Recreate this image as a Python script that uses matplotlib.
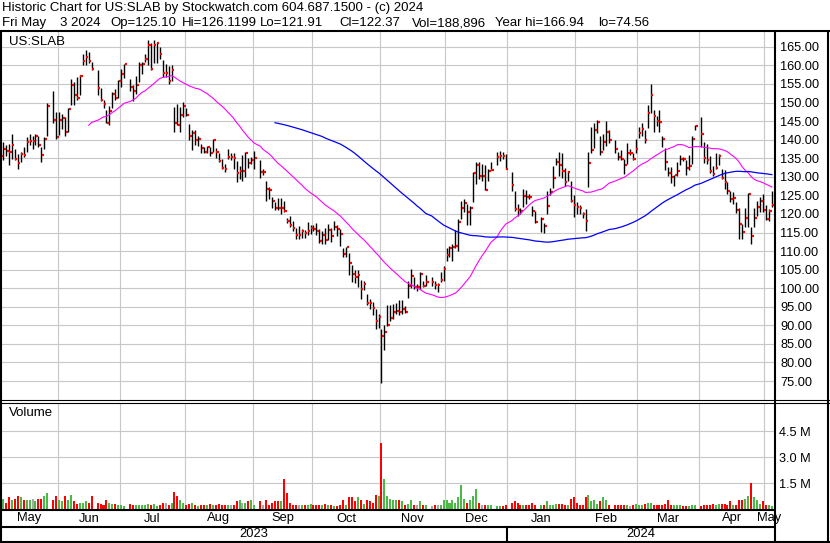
import numpy as np
import pandas as pd
import matplotlib
matplotlib.use("Agg")
import matplotlib.pyplot as plt
from matplotlib.transforms import blended_transform_factory

plt.rcParams['font.family'] = ['Liberation Sans', 'DejaVu Sans']

# Trading calendar: one slot per weekday, market holidays stay empty
first_day = '2023-05-04'
last_day = '2024-05-03'
holidays = ['2023-05-29', '2023-06-19', '2023-07-04', '2023-09-04', '2023-11-23',
            '2023-12-25', '2024-01-01', '2024-01-15', '2024-02-19', '2024-03-29']

# Daily closes (US:SLAB), month by month
closes = [
    135.5, 137.4, 136.9, 136.6, 138.7, 134.9, 133.8, 136.2, 135.8, 139.3, 139.7, 139.7, 141.1, 138.5, 135.8, 140.2, 149.2, 145.2, 140.6,
    145.2, 145.8, 142.2, 148.2, 154.8, 152.0, 151.1, 157.1, 161.3, 162.4, 161.3, 159.0, 153.8, 150.8, 149.7, 144.6, 147.6, 152.4, 151.3, 155.7, 157.6,
    160.3, 154.1, 153.0, 154.7, 160.2, 160.5, 161.6, 165.4, 159.0, 165.4, 166.0, 163.0, 157.9, 157.9, 155.7, 158.7, 144.4, 144.0, 146.6, 149.0,
    146.7, 140.9, 141.8, 140.0, 140.2, 137.7, 136.8, 138.0, 136.4, 140.0, 136.6, 134.3, 132.4, 132.1, 135.4, 135.4, 135.0, 130.9, 131.5, 131.5, 136.5, 133.8, 134.6,
    135.2, 131.4, 131.4, 126.7, 126.4, 123.4, 121.6, 121.5, 121.6, 120.9, 118.1, 117.1, 116.1, 114.3, 114.3, 115.4, 114.8, 115.3, 116.3, 115.9,
    115.5, 112.8, 114.3, 113.0, 115.7, 114.1, 116.6, 116.0, 114.6, 109.2, 111.0, 106.7, 103.8, 103.1, 103.5, 99.9, 101.2, 96.0, 95.9, 94.8, 91.2, 92.3,
    87.2, 88.2, 90.1, 92.1, 93.7, 94.0, 93.5, 94.5, 93.6, 100.5, 103.2, 100.3, 100.3, 103.8, 100.6, 101.7, 101.7, 100.9, 100.9, 102.3, 105.3,
    108.9, 110.7, 111.0, 111.3, 117.7, 121.6, 122.9, 120.4, 121.7, 131.0, 133.3, 130.3, 130.3, 126.5, 131.7, 131.9, 135.3, 135.7, 135.5, 132.1,
    127.9, 121.3, 121.0, 120.7, 124.9, 124.7, 124.5, 120.9, 117.9, 118.6, 116.8, 122.2, 126.0, 129.6, 134.1, 133.1, 131.6, 128.5, 131.3, 123.5, 122.4,
    122.0, 121.5, 119.9, 118.2, 133.6, 137.2, 142.5, 144.8, 136.6, 139.3, 142.1, 139.9, 137.6, 135.4, 134.9, 133.1, 136.3, 136.3, 134.9, 137.5,
    141.9, 142.9, 139.9, 147.3, 152.0, 146.4, 145.1, 144.8, 140.2, 133.9, 130.9, 130.0, 130.4, 131.5, 134.9, 134.8, 132.5, 132.9, 140.2, 143.7,
    141.6, 135.0, 134.6, 131.5, 130.8, 132.3, 135.5, 129.7, 128.5, 126.1, 123.9, 124.4, 121.2, 117.4, 115.2, 118.9, 125.5, 114.0, 118.9, 121.9, 123.5, 121.2,
    118.7, 120.8, 122.37,
]

highs = [
    138.0, 139.4, 138.5, 138.9, 141.6, 137.6, 136.2, 136.7, 138.0, 140.6, 141.6, 141.1, 141.4, 141.1, 138.1, 140.6, 150.0, 153.2, 147.4,
    147.4, 147.0, 146.0, 148.4, 156.4, 155.5, 156.8, 157.4, 163.2, 164.1, 163.7, 161.0, 158.7, 153.8, 150.8, 148.0, 149.2, 152.8, 153.7, 156.0, 159.1,
    160.5, 156.4, 154.7, 157.1, 160.9, 161.0, 163.0, 166.9, 166.0, 166.8, 166.4, 164.9, 161.4, 160.5, 159.8, 160.1, 148.8, 149.6, 148.8, 150.2,
    148.4, 144.3, 142.5, 142.6, 141.1, 138.9, 138.0, 138.4, 138.0, 140.2, 137.8, 136.4, 134.7, 133.5, 137.5, 136.4, 136.4, 134.3, 133.0, 135.8, 136.8, 135.0, 135.4,
    137.0, 134.6, 132.0, 128.9, 127.2, 124.5, 123.3, 124.4, 124.4, 123.4, 118.9, 119.5, 118.0, 116.1, 116.8, 116.0, 115.8, 117.7, 117.0, 117.1,
    117.6, 115.9, 115.3, 116.3, 117.4, 116.1, 118.2, 117.0, 116.0, 110.8, 111.2, 109.4, 106.3, 105.0, 104.9, 102.1, 102.0, 98.4, 97.0, 96.2, 94.4, 93.0,
    89.0, 90.0, 95.5, 95.5, 95.8, 96.0, 96.7, 96.7, 95.2, 102.0, 105.2, 103.1, 101.1, 104.3, 101.9, 103.6, 102.9, 101.9, 101.4, 104.5, 105.9,
    110.9, 111.4, 111.9, 115.6, 118.6, 123.6, 124.1, 122.6, 122.2, 131.2, 133.9, 133.9, 133.4, 133.1, 132.1, 134.1, 136.6, 137.0, 136.6, 136.1,
    131.3, 126.3, 122.6, 121.7, 126.7, 126.5, 125.4, 122.2, 120.9, 119.1, 117.5, 126.1, 127.1, 132.9, 135.2, 136.6, 136.3, 132.5, 131.7, 128.9, 125.2,
    123.3, 122.4, 120.6, 121.4, 136.8, 143.5, 144.5, 145.3, 141.0, 141.5, 145.0, 142.6, 139.8, 136.7, 137.1, 134.9, 139.0, 137.6, 136.3, 140.3,
    143.5, 144.4, 142.6, 149.4, 155.1, 148.0, 146.4, 148.0, 140.9, 137.7, 132.7, 132.7, 130.5, 134.0, 135.8, 135.4, 134.5, 135.8, 140.9, 144.0,
    146.2, 139.5, 138.8, 135.5, 132.9, 136.3, 136.2, 132.2, 131.8, 128.6, 126.1, 125.8, 123.1, 121.7, 117.2, 121.5, 125.6, 116.5, 121.6, 123.4, 124.5, 125.4,
    122.3, 121.3, 126.12,
]

lows = [
    133.5, 134.4, 135.5, 133.1, 134.9, 134.4, 132.2, 134.0, 135.3, 136.6, 138.5, 137.6, 138.5, 138.1, 134.0, 137.6, 140.9, 144.6, 140.2,
    141.2, 142.9, 141.1, 142.2, 149.3, 149.3, 150.8, 152.0, 160.0, 160.0, 160.6, 158.8, 152.0, 150.4, 148.5, 144.4, 143.9, 148.5, 150.6, 151.1, 154.3,
    156.5, 153.0, 150.3, 152.4, 155.6, 157.6, 160.9, 160.0, 158.8, 160.6, 160.6, 161.8, 157.0, 157.0, 155.1, 155.7, 142.1, 143.9, 142.0, 146.0,
    146.3, 139.8, 137.1, 138.5, 138.4, 136.4, 136.4, 136.4, 135.7, 136.6, 135.0, 133.9, 132.1, 131.3, 134.8, 134.4, 132.1, 128.5, 129.5, 129.0, 130.0, 132.5, 133.5,
    132.0, 129.8, 130.5, 123.5, 124.0, 121.7, 121.0, 121.0, 120.0, 120.6, 117.5, 116.6, 115.3, 113.2, 113.2, 113.6, 113.6, 114.4, 114.7, 115.3,
    114.4, 112.1, 111.9, 112.0, 113.0, 112.4, 115.6, 114.0, 111.4, 108.3, 108.5, 103.5, 101.6, 101.5, 100.3, 97.2, 99.5, 95.4, 94.3, 92.7, 89.0, 89.4,
    74.56, 83.3, 89.9, 91.2, 91.8, 93.0, 92.9, 93.1, 93.3, 97.4, 100.1, 99.7, 99.2, 99.7, 100.2, 100.5, 100.6, 99.7, 99.0, 101.7, 101.9,
    107.4, 108.5, 107.4, 110.7, 110.0, 118.6, 120.6, 117.0, 117.0, 123.2, 128.1, 129.5, 129.0, 126.5, 129.0, 131.9, 133.1, 134.2, 134.9, 132.1,
    126.3, 120.9, 119.5, 119.9, 122.0, 122.7, 124.0, 119.5, 117.6, 115.1, 114.8, 120.0, 125.2, 126.9, 133.1, 130.3, 129.7, 127.5, 129.0, 123.1, 119.1,
    119.9, 120.1, 118.9, 115.5, 127.2, 136.4, 137.7, 141.8, 136.0, 137.2, 138.3, 139.0, 136.3, 134.5, 134.4, 130.8, 133.5, 136.0, 134.4, 136.4,
    140.5, 141.0, 139.0, 143.1, 147.1, 142.0, 143.7, 142.0, 138.1, 131.8, 130.2, 128.4, 127.6, 130.1, 133.1, 134.2, 130.5, 131.9, 133.4, 142.6,
    138.0, 133.7, 133.5, 131.0, 130.3, 132.0, 133.3, 129.3, 126.8, 125.3, 123.1, 122.6, 120.3, 113.2, 113.2, 116.4, 116.4, 111.8, 116.6, 119.5, 120.5, 120.6,
    118.3, 118.2, 121.91,
]

# Daily volume, millions of shares
volume = [
    0.61, 0.63, 0.40, 0.69, 0.57, 0.63, 0.75, 0.69, 0.52, 0.57, 0.52, 0.63, 0.46, 0.63, 0.63, 0.75, 0.92, 0.52, 0.80,
    0.57, 0.46, 0.75, 0.52, 0.86, 0.46, 0.34, 0.40, 0.40, 0.46, 0.40, 0.75, 0.40, 0.34, 0.28, 0.52, 0.40, 0.34, 0.34, 0.23, 0.23,
    0.18, 0.34, 0.28, 0.23, 0.23, 0.23, 0.23, 0.34, 0.28, 0.34, 0.18, 0.23, 0.40, 0.40, 0.23, 0.40, 0.98, 0.80, 0.57, 0.40,
    0.28, 0.34, 0.40, 0.28, 0.18, 0.28, 0.28, 0.28, 0.34, 0.28, 0.28, 0.34, 0.23, 0.23, 0.28, 0.23, 0.28, 0.46, 0.52, 0.40, 0.40, 0.46, 0.52,
    0.28, 0.46, 0.28, 0.57, 0.28, 0.40, 0.46, 0.46, 0.46, 1.73, 0.92, 0.40, 0.28, 0.28, 0.23, 0.23, 0.23, 0.28, 0.34, 0.28,
    0.28, 0.28, 0.23, 0.34, 0.23, 0.23, 0.18, 0.18, 0.23, 0.52, 0.28, 0.69, 0.69, 0.46, 0.69, 0.52, 0.34, 0.57, 0.46, 0.40, 0.86, 0.80,
    3.80, 1.78, 0.75, 0.63, 0.52, 0.52, 0.57, 0.46, 0.28, 0.34, 0.57, 0.23, 0.28, 0.46, 0.28, 0.28, 0.18, 0.23, 0.23, 0.28, 0.57,
    0.52, 0.40, 0.52, 0.40, 0.69, 1.38, 0.63, 0.40, 0.52, 0.75, 1.15, 0.40, 0.28, 0.28, 0.28, 0.23, 0.18, 0.18, 0.18, 0.23,
    0.40, 0.46, 0.40, 0.23, 0.28, 0.23, 0.28, 0.40, 0.23, 0.23, 0.23, 0.46, 0.28, 0.28, 0.34, 0.34, 0.34, 0.28, 0.28, 0.63, 0.69,
    0.40, 0.28, 0.23, 0.69, 0.86, 0.46, 0.57, 0.34, 0.46, 0.69, 0.52, 0.28, 0.23, 0.28, 0.23, 0.28, 0.23, 0.18, 0.23, 0.34,
    0.23, 0.23, 0.34, 0.40, 0.40, 0.28, 0.28, 0.23, 0.28, 0.34, 0.52, 0.28, 0.23, 0.23, 0.23, 0.18, 0.18, 0.18, 0.28, 0.28,
    0.18, 0.23, 0.28, 0.28, 0.34, 0.23, 0.34, 0.34, 0.34, 0.23, 0.46, 0.28, 0.28, 0.52, 0.57, 0.63, 0.80, 1.50, 0.69, 0.52, 0.34, 0.46,
    0.28, 0.23, 0.19,
]

month_names = ['May', 'Jun', 'Jul', 'Aug', 'Sep', 'Oct', 'Nov', 'Dec', 'Jan', 'Feb', 'Mar', 'Apr', 'May']
year_names = ['2023', '2024']
price_ticks = list(range(75, 170, 5))
vol_ticks = [1.5, 3.0, 4.5]

header = "Historic Chart for US:SLAB by Stockwatch.com 604.687.1500 - (c) 2024"
quote = ["Fri May", "3 2024", "Op=125.10", "Hi=126.1199", "Lo=121.91", "Cl=122.37",
         "Vol=188,896", "Year hi=166.94", "lo=74.56"]
quote_x = [2, 60, 110, 182, 260, 339, 412, 495, 598]

RED = '#ff0000'
GREEN = '#4cb848'
GRAY = '#a8a8a8'
GRID = '#c8c8c8'

# ---- positions ----
days = pd.bdate_range(first_day, last_day)
trade_days = days[~days.isin(pd.to_datetime(holidays))]
x = days.get_indexer(trade_days)

close_s = pd.Series(closes)
ma_fast = close_s.rolling(30).mean()
ma_slow = close_s.rolling(90).mean()

chg = np.diff(np.array(closes), prepend=np.nan)
vol_colors = np.where(chg > 0, GREEN, np.where(chg < 0, RED, GRAY))

month_starts = pd.date_range('2023-06-01', '2024-05-01', freq='MS')
bounds = days.searchsorted(month_starts, side='right') - 1 - 0.5
xmin, xmax = 0.0, 261.9
edges = np.concatenate([[xmin], bounds, [xmax]])
month_centers = (edges[:-1] + edges[1:]) / 2
year_edges = [xmin, bounds[7], xmax]

# ---- figure ----
W, H = 830, 543
fig = plt.figure(figsize=(W / 100, H / 100), dpi=100)
fig.patch.set_facecolor('white')


def rect(x0, y0, x1, y1):
    return [x0 / W, 1 - y1 / H, (x1 - x0) / W, (y1 - y0) / H]


ax = fig.add_axes(rect(0, 32, 774.5, 400))
ax.set_xlim(xmin, xmax)
ax.set_ylim(69.9, 169.0)
ax.set_xticks(bounds)
ax.set_yticks(price_ticks)
ax.set_yticklabels([f'{v:.2f}' for v in price_ticks])
ax.yaxis.tick_right()
ax.tick_params(axis='y', length=0, pad=4.0, labelsize=9.2)
ax.tick_params(axis='x', length=0, labelbottom=False)
ax.grid(True, color=GRID, lw=0.8)
ax.set_axisbelow(True)
for s in ax.spines.values():
    s.set_visible(False)

ax.vlines(x, lows, highs, color='black', lw=1.0)
ax.hlines(closes, x + 0.2, x + 0.9, color=RED, lw=1.6)
ax.plot(x, ma_fast, color='#ff00ff', lw=0.8)
ax.plot(x, ma_slow, color='#0000ff', lw=0.9)

# volume panel
axv = fig.add_axes(rect(0, 403, 774.5, 509.5))
axv.set_xlim(xmin, xmax)
axv.set_ylim(0, 6.12)
axv.set_xticks(bounds)
axv.set_yticks(vol_ticks)
axv.set_yticklabels([f'{v:.1f} M' for v in vol_ticks])
axv.yaxis.tick_right()
axv.tick_params(axis='y', length=0, pad=3.5, labelsize=9.2)
axv.tick_params(axis='x', length=0, labelbottom=False)
axv.grid(True, color=GRID, lw=0.8)
axv.set_axisbelow(True)
for s in axv.spines.values():
    s.set_visible(False)
axv.bar(x, volume, width=0.68, color=vol_colors, linewidth=0)

# overlay in pixel coordinates for frame and texts
fr = fig.add_axes([0, 0, 1, 1], zorder=10)
fr.set_xlim(0, W)
fr.set_ylim(H, 0)
fr.axis('off')

fr.text(2, 7.5, header, fontsize=9.5, va='center', ha='left')
for t, qx in zip(quote, quote_x):
    fr.text(qx, 23, t, fontsize=9.5, va='center', ha='left')
fr.text(9, 42, 'US:SLAB', fontsize=9.5, va='center', ha='left')
fr.text(9, 413, 'Volume', fontsize=9.5, va='center', ha='left')

tr = blended_transform_factory(ax.transData, fr.transData)
for name, cx in zip(month_names, month_centers):
    fr.text(cx, 518.5, name, transform=tr, fontsize=9.3, ha='center', va='center', zorder=1)
for name, a, b in zip(year_names, year_edges[:-1], year_edges[1:]):
    fr.text((a + b) / 2, 534, name, transform=tr, fontsize=9.3, ha='center', va='center', zorder=1)
fr.plot([bounds[7], bounds[7]], [527, 542], transform=tr, color='black', lw=1.5, zorder=2)

kw = dict(color='black', solid_capstyle='butt', zorder=3)
fr.plot([0, W], [31, 31], lw=1.5, **kw)
fr.plot([1, 1], [31, 543], lw=1.5, **kw)
fr.plot([774.5, 774.5], [31, 543], lw=1.5, **kw)
fr.plot([827.7, 827.7], [31, 543], lw=1.5, **kw)
fr.plot([0, W], [400, 400], lw=0.8, **kw)
fr.plot([0, W], [402.5, 402.5], lw=0.8, **kw)
fr.plot([0, 774.5], [510.3, 510.3], lw=1.5, **kw)
fr.plot([0, 774.5], [527, 527], lw=1.5, **kw)
fr.plot([0, W], [542, 542], lw=1.5, **kw)

fig.savefig('out.png', dpi=100)
